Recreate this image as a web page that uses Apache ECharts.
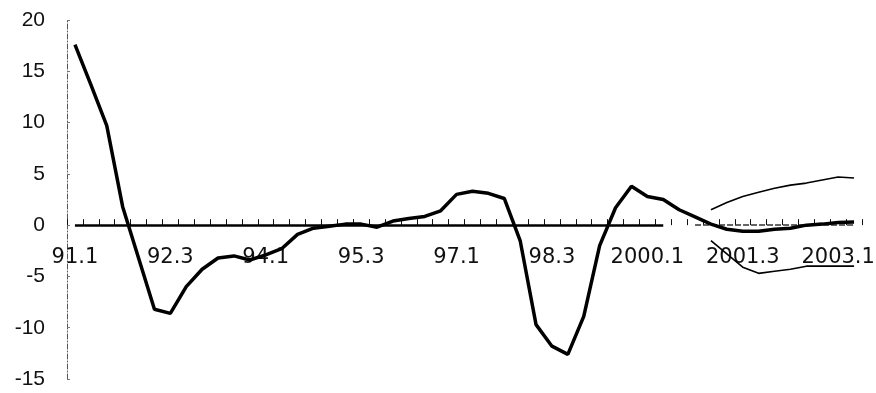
<!DOCTYPE html>
<html>
<head>
<meta charset="utf-8">
<script src="https://cdn.jsdelivr.net/npm/echarts@6/dist/echarts.min.js"></script>
<style>
  html, body { margin: 0; padding: 0; background: #fff; }
  #chart { width: 876px; height: 393px; }
</style>
</head>
<body>
<div id="chart"></div>
<script>
// Quarterly periods, 1991 Q1 to 2003 Q2
const quarters = [
  '91.1','91.2','91.3','91.4','92.1','92.2','92.3','92.4',
  '93.1','93.2','93.3','93.4','94.1','94.2','94.3','94.4',
  '95.1','95.2','95.3','95.4','96.1','96.2','96.3','96.4',
  '97.1','97.2','97.3','97.4','98.1','98.2','98.3','98.4',
  '99.1','99.2','99.3','99.4','2000.1','2000.2','2000.3','2000.4',
  '2001.1','2001.2','2001.3','2001.4','2002.1','2002.2','2002.3','2002.4',
  '2003.1','2003.2'
];

// Main series (thick line)
const mainValues = [
  17.6, 13.7, 9.7, 1.8, -3.2, -8.2, -8.6, -6.0,
  -4.3, -3.2, -3.0, -3.4, -2.9, -2.3, -0.9, -0.3,
  -0.1, 0.1, 0.1, -0.2, 0.4, 0.65, 0.85, 1.4,
  3.0, 3.3, 3.1, 2.6, -1.5, -9.7, -11.8, -12.6,
  -8.9, -2.0, 1.7, 3.8, 2.8, 2.5, 1.5, 0.8,
  0.1, -0.4, -0.6, -0.6, -0.4, -0.3, 0.0, 0.1,
  0.25, 0.3
];

// Upper and lower band, from 2001.1 onward
const upperValues = [1.5, 2.2, 2.8, 3.2, 3.6, 3.9, 4.1, 4.4, 4.7, 4.6];
const lowerValues = [-1.5, -2.8, -4.1, -4.7, -4.5, -4.3, -4.0, -4.0, -4.0, -4.0];
const bandStart = '2001.1';

// Value axis ticks
const yMin = -15, yMax = 20, yStep = 5;

function padBand(vals) {
  const start = quarters.indexOf(bandStart);
  const out = quarters.map(() => null);
  vals.forEach((v, i) => { out[start + i] = v; });
  return out;
}

// Plot frame
const gridTop = 20, gridBottom = 14, chartH = 393;
const plotH = chartH - gridTop - gridBottom;
// shift the category axis up from the bottom edge to the zero line
const zeroShift = plotH * (0 - yMin) / (yMax - yMin);

const yFont = '"Liberation Sans", Arial, sans-serif';
const xFont = '"DejaVu Sans", sans-serif';
const chart = echarts.init(document.getElementById('chart'), null, { renderer: 'canvas' });

chart.setOption({
  animation: false,
  backgroundColor: '#ffffff',
  grid: {
    left: 67, right: 14, top: gridTop, bottom: gridBottom,
    containLabel: false, outerBoundsMode: 'none'
  },
  xAxis: {
    type: 'category',
    data: quarters,
    boundaryGap: true,
    position: 'bottom',
    offset: -zeroShift,
    axisLine: { show: false, onZero: false },
    axisTick: {
      show: true, inside: true, length: 6, interval: 0,
      lineStyle: { color: '#111', width: 1 }
    },
    axisLabel: {
      show: true, interval: 5, margin: 22,
      fontFamily: xFont, fontSize: 21, color: '#111'
    },
    splitLine: { show: false }
  },
  yAxis: {
    type: 'value',
    min: yMin, max: yMax, interval: yStep,
    axisLine: { show: true, lineStyle: { color: '#555', width: 1, type: [5, 2, 1, 2] } },
    axisTick: { show: true, inside: true, length: 3, lineStyle: { color: '#777' } },
    axisLabel: { margin: 22, fontFamily: yFont, fontSize: 21, color: '#111' },
    splitLine: { show: false }
  },
  series: [
    {
      name: 'main',
      type: 'line',
      data: mainValues,
      symbol: 'none',
      lineStyle: { color: '#000', width: 3.5 },
      z: 5,
      markLine: {
        silent: true,
        symbol: 'none',
        label: { show: false },
        data: [
          [
            { coord: ['91.1', 0], lineStyle: { color: '#000', width: 2.5, type: 'solid' } },
            { coord: ['2000.2', 0] }
          ],
          [
            { coord: ['2000.4', 0], lineStyle: { color: '#333', width: 1.5, type: [6, 2] } },
            { coord: ['2003.2', 0] }
          ]
        ]
      }
    },
    {
      name: 'upper',
      type: 'line',
      data: padBand(upperValues),
      symbol: 'none',
      connectNulls: false,
      lineStyle: { color: '#000', width: 1.6 },
      z: 4
    },
    {
      name: 'lower',
      type: 'line',
      data: padBand(lowerValues),
      symbol: 'none',
      connectNulls: false,
      lineStyle: { color: '#000', width: 1.6 },
      z: 4
    }
  ]
});
</script>
</body>
</html>
